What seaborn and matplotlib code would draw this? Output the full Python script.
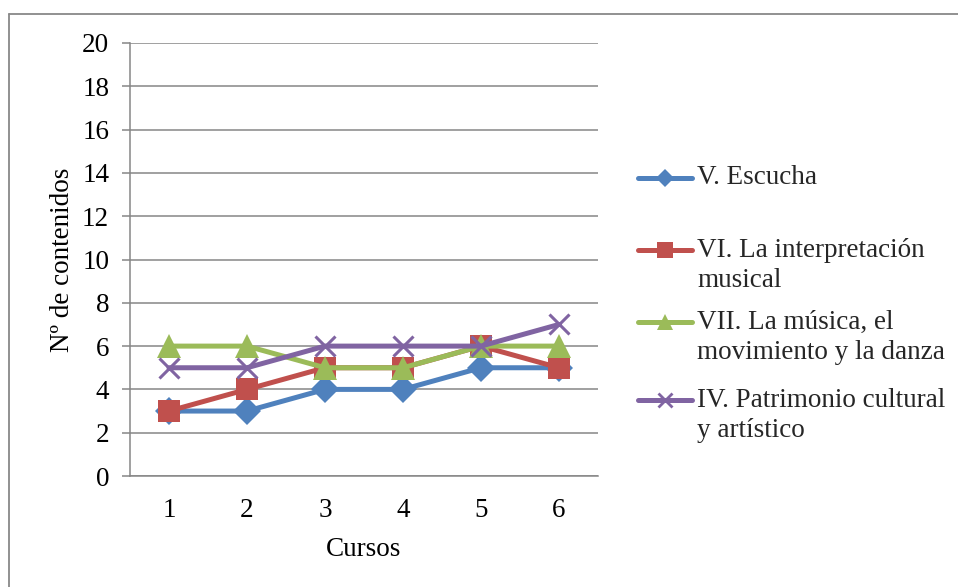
import numpy as np
import pandas as pd
import seaborn as sns
import matplotlib.pyplot as plt
from matplotlib.lines import Line2D

# Data: number of contents per course for each block
cursos = ["1", "2", "3", "4", "5", "6"]
escucha = [3, 3, 4, 4, 5, 5]
interpretacion = [3, 4, 5, 5, 6, 5]
musica_danza = [6, 6, 5, 5, 6, 6]
patrimonio = [5, 5, 6, 6, 6, 7]

series_names = [
    "V. Escucha",
    "VI. La interpretación musical",
    "VII. La música, el movimiento y la danza",
    "IV. Patrimonio cultural y artístico",
]
legend_labels = [
    "V. Escucha",
    "VI. La interpretación\nmusical",
    "VII. La música, el\nmovimiento y la danza",
    "IV. Patrimonio cultural\ny artístico",
]
y_ticks = list(range(0, 21, 2))

colors = ["#4F81BD", "#C0504D", "#9BBB59", "#8064A2"]
markers = ["D", "s", "^", "x"]
msizes = [14, 16.5, 17, 15]
leg_msizes = [9, 11, 12, 10]

df = pd.DataFrame({
    "Cursos": cursos * 4,
    "valor": escucha + interpretacion + musica_danza + patrimonio,
    "serie": np.repeat(series_names, len(cursos)),
})

sns.set_theme(style="white")
plt.rcParams["font.family"] = ["Liberation Serif", "DejaVu Serif"]
FS = 19.5

W, H = 958, 587
fig = plt.figure(figsize=(W / 100, H / 100), dpi=100)
ax = fig.add_axes([130 / W, 1 - 476 / H, 468 / W, 433 / H])

grid_c = "#868686"
for i, name in enumerate(series_names):
    sub = df[df["serie"] == name]
    mk = markers[i]
    kw = dict(markeredgewidth=2.2, markeredgecolor=colors[i]) if mk == "x" else dict(markeredgewidth=0)
    sns.lineplot(data=sub, x="Cursos", y="valor", ax=ax, color=colors[i],
                 linewidth=3.6, marker=mk, markersize=msizes[i], zorder=3 + i,
                 legend=False, sort=False, **kw)

ax.set_xlim(-0.5, 5.5)
ax.set_ylim(0, 20)
ax.set_yticks(y_ticks)
ax.set_yticklabels([str(v) for v in y_ticks])
ax.yaxis.grid(True, color=grid_c, linewidth=1.1)
ax.xaxis.grid(False)
ax.set_axisbelow(True)
for s in ["top", "right"]:
    ax.spines[s].set_visible(False)
for s in ["left", "bottom"]:
    ax.spines[s].set_color(grid_c)
    ax.spines[s].set_linewidth(1.1)

ax.tick_params(axis="y", left=True, length=6, width=1.1, color=grid_c,
               labelsize=FS, labelcolor="black", pad=9)
ax.tick_params(axis="x", bottom=False, length=0, labelsize=FS,
               labelcolor="black", pad=16)
ax.set_xlabel("Cursos", fontsize=FS, color="black", labelpad=10)
ax.set_ylabel("Nº de contenidos", fontsize=FS, color="black", labelpad=5)

# Legend on the right
tf = fig.transFigure
leg_y = [178, 265.5, 337.5, 415.5]
first_line_y = [178, 250, 322, 400]
for i in range(4):
    yl = 1 - first_line_y[i] / H
    fig.add_artist(Line2D([638 / W, 665 / W, 692 / W], [yl, yl, yl], transform=tf,
                          color=colors[i], linewidth=3.6, marker=markers[i],
                          markevery=[1], markersize=leg_msizes[i],
                          markeredgewidth=2 if markers[i] == "x" else 0,
                          markeredgecolor=colors[i], solid_capstyle="round"))
    fig.text(697 / W, 1 - leg_y[i] / H, legend_labels[i], transform=tf,
             fontsize=FS, va="center", ha="left", linespacing=1.25)

# Frame around the chart area
fig.add_artist(Line2D([8.5 / W, 1.0], [1 - 13.5 / H, 1 - 13.5 / H], transform=tf,
                      color="#888888", linewidth=1.3))
fig.add_artist(Line2D([8.5 / W, 8.5 / W], [0, 1 - 13.5 / H], transform=tf,
                      color="#888888", linewidth=1.3))

fig.savefig("out.png", dpi=100)
